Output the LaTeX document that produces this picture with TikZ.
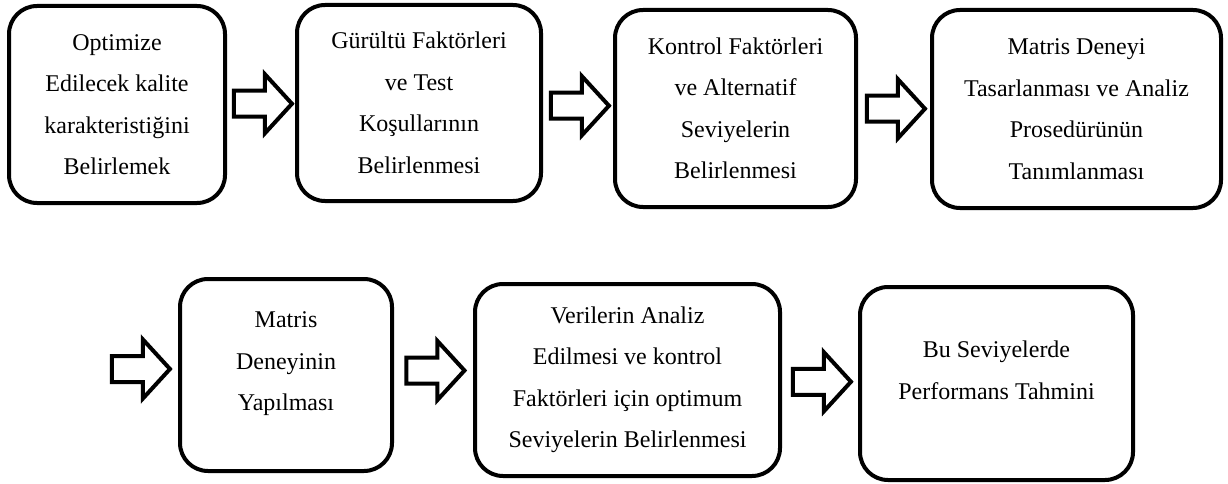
\documentclass[tikz,border=0pt]{standalone}
\usepackage{fontspec}
\setmainfont{Liberation Serif}
\usetikzlibrary{shapes.arrows}

\tikzset{
  stepbox/.style={draw, line width=4pt, rounded corners=28pt, align=center,
    inner sep=0pt, font=\fontsize{24}{41.5}\selectfont},
  flowarrow/.style={draw, line width=4pt, single arrow, inner xsep=0pt,
    inner ysep=11pt, minimum height=58pt, single arrow head extend=16.5pt,
    single arrow tip angle=95, xshift=-4pt},
}

\begin{document}
\begin{tikzpicture}[x=1pt, y=-1pt]
\useasboundingbox (0,0) rectangle (1228,484);
% top row
\node[stepbox, minimum width=216pt, minimum height=197pt] (b1) at (117,104.5)
  {Optimize\\Edilecek kalite\\karakteristiğini\\Belirlemek};
\node[stepbox, minimum width=244pt, minimum height=196pt] (b2) at (419,103)
  {Gürültü Faktörleri\\ve Test\\Koşullarının\\Belirlenmesi};
\node[stepbox, minimum width=241pt, minimum height=197pt] (b3) at (735.5,108.5)
  {Kontrol Faktörleri\\ve Alternatif\\Seviyelerin\\Belirlenmesi};
\node[stepbox, minimum width=289pt, minimum height=198pt] (b4) at (1076.5,109)
  {Matris Deneyi\\Tasarlanması ve Analiz\\Prosedürünün\\Tanımlanması};
% bottom row
\node[stepbox, minimum width=212pt, minimum height=192pt] (b5) at (286,375)
  {Matris\\Deneyinin\\Yapılması\rule[-27pt]{0pt}{27pt}};
\node[stepbox, minimum width=305pt, minimum height=192pt] (b6) at (627.5,380)
  {Verilerin Analiz\\Edilmesi ve kontrol\\Faktörleri için optimum\\Seviyelerin Belirlenmesi};
\node[stepbox, minimum width=273pt, minimum height=193pt] (b7) at (996.5,383.5)
  {Bu Seviyelerde\\Performans Tahmini\rule[-27pt]{0pt}{27pt}};
\coordinate (in5) at (100,369);

% block arrows
\path (b1.east) -- node[flowarrow] {} (b2.west);
\path (b2.east) -- node[flowarrow] {} (b3.west);
\path (b3.east) -- node[flowarrow] {} (b4.west);
\path (in5) -- node[flowarrow] {} (b5.west |- in5);
\path (b5.east) -- node[flowarrow, yshift=7pt] {} (b6.west);
\path (b6.east) -- node[flowarrow] {} (b7.west);
\end{tikzpicture}
\end{document}
